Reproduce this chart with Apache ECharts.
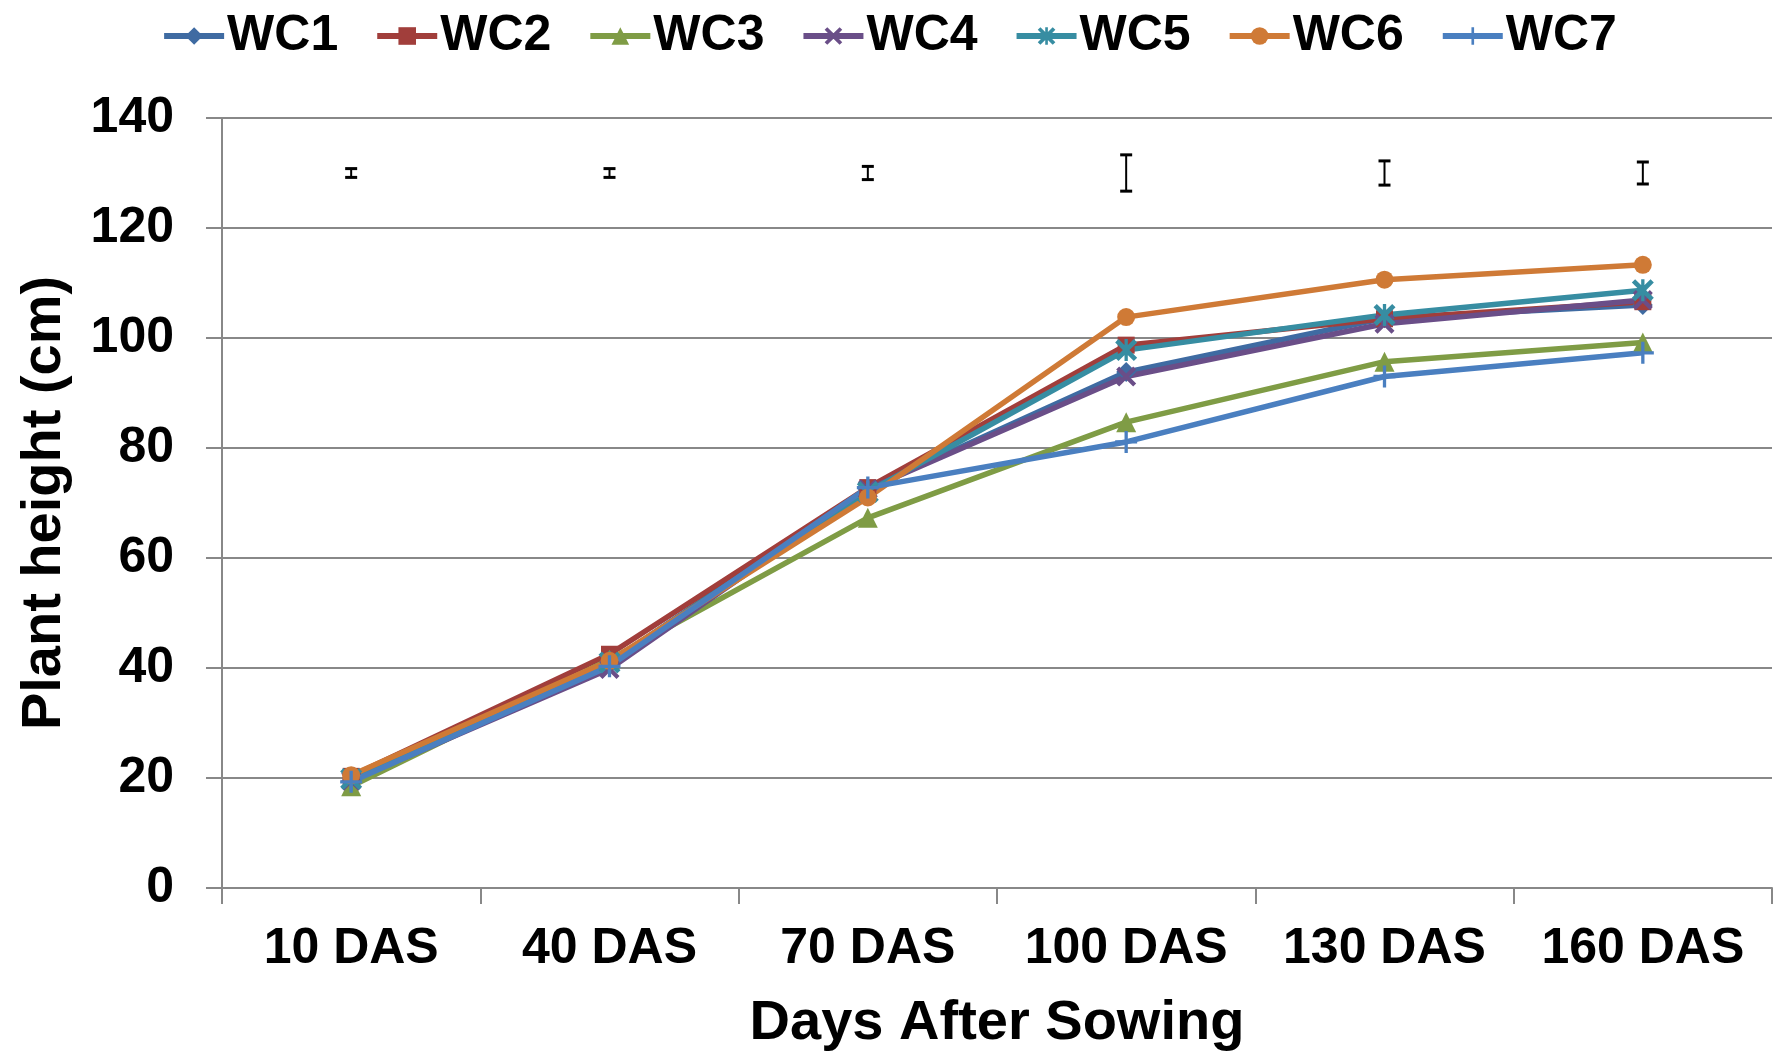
<!DOCTYPE html>
<html>
<head>
<meta charset="utf-8">
<script src="https://cdn.jsdelivr.net/npm/echarts@6/dist/echarts.min.js"></script>
<style>
  html, body { margin: 0; padding: 0; background: #fff; }
  #chart { width: 1778px; height: 1052px; }
</style>
</head>
<body>
<div id="chart"></div>
<script>
const categories = ['10 DAS', '40 DAS', '70 DAS', '100 DAS', '130 DAS', '160 DAS'];
const yTicks = [0, 20, 40, 60, 80, 100, 120, 140];

const wc1 = [19.5, 41.0, 72.5, 93.8, 103.6, 106.0];
const wc2 = [20.3, 42.5, 72.8, 98.7, 103.5, 106.6];
const wc3 = [18.5, 41.5, 67.3, 84.7, 95.7, 99.2];
const wc4 = [19.5, 39.8, 72.5, 93.0, 102.6, 106.9];
const wc5 = [19.8, 41.0, 72.0, 97.8, 104.2, 108.7];
const wc6 = [20.5, 41.3, 71.0, 103.8, 110.6, 113.3];
const wc7 = [19.3, 40.3, 72.8, 81.1, 93.0, 97.3];

// error bars drawn at the top of the plot
const errCenter = [130, 130, 130, 130, 130, 130];
const errHalf = [0.8, 0.8, 1.2, 3.3, 2.2, 2.0];

const FONT = '"Liberation Sans", Arial, sans-serif';

const xMark = 'path://M3,0L10,7L17,0L20,3L13,10L20,17L17,20L10,13L3,20L0,17L7,10L0,3Z';
const starMark = xMark + ' M8.5,0H11.5V20H8.5Z';
const plusMark = 'path://M8.5,0H11.5V20H8.5Z M0,8.5H20V11.5H0Z';

const seriesDefs = [
  { name: 'WC1', data: wc1, color: '#3F6BA2', symbol: 'diamond', size: 20 },
  { name: 'WC2', data: wc2, color: '#A13E3B', symbol: 'rect', size: 17 },
  { name: 'WC3', data: wc3, color: '#7F9C45', symbol: 'triangle', size: 20 },
  { name: 'WC4', data: wc4, color: '#6A4E88', symbol: xMark, size: 20 },
  { name: 'WC5', data: wc5, color: '#378DA2', symbol: starMark, size: 22 },
  { name: 'WC6', data: wc6, color: '#CF7A36', symbol: 'circle', size: 18 },
  { name: 'WC7', data: wc7, color: '#4A7FC0', symbol: plusMark, size: 22 }
];

const chart = echarts.init(document.getElementById('chart'), null, { renderer: 'canvas' });

const lineSeries = seriesDefs.map(d => ({
  name: d.name,
  type: 'line',
  data: d.data,
  symbol: d.symbol,
  symbolSize: d.size,
  showAllSymbol: true,
  lineStyle: { color: d.color, width: 5.5 },
  itemStyle: { color: d.color },
  emphasis: { disabled: true },
  animation: false,
  z: 3
}));

const errData = categories.map((c, i) => [i, errCenter[i], errHalf[i]]);

const errSeries = {
  name: 'err',
  type: 'custom',
  data: errData,
  animation: false,
  z: 4,
  renderItem(params, api) {
    const i = api.value(0);
    const c = api.value(1);
    const h = api.value(2);
    const top = api.coord([i, c + h]);
    const bot = api.coord([i, c - h]);
    const w = 6;
    const cap = { stroke: '#000', lineWidth: 3 };
    return {
      type: 'group',
      children: [
        { type: 'line', shape: { x1: top[0], y1: top[1], x2: bot[0], y2: bot[1] }, style: { stroke: '#000', lineWidth: 2 } },
        { type: 'line', shape: { x1: top[0] - w, y1: top[1], x2: top[0] + w, y2: top[1] }, style: cap },
        { type: 'line', shape: { x1: bot[0] - w, y1: bot[1], x2: bot[0] + w, y2: bot[1] }, style: cap }
      ]
    };
  }
};

chart.setOption({
  backgroundColor: '#fff',
  animation: false,
  legend: {
    data: seriesDefs.map(d => d.name),
    top: 6,
    left: 'center',
    itemWidth: 60,
    itemHeight: 22,
    itemGap: 36,
    lineStyle: { width: 6 },
    textStyle: { fontFamily: FONT, fontWeight: 'bold', fontSize: 50, color: '#000', padding: [0, 0, 0, -2] }
  },
  grid: {
    left: 222,
    right: 6,
    top: 118,
    bottom: 164,
    outerBoundsMode: 'none'
  },
  xAxis: {
    type: 'category',
    data: categories,
    boundaryGap: true,
    name: 'Days After Sowing',
    nameLocation: 'middle',
    nameGap: 108,
    nameTextStyle: { fontFamily: FONT, fontWeight: 'bold', fontSize: 56, color: '#000' },
    axisLine: { lineStyle: { color: '#888', width: 2 } },
    axisTick: { show: true, length: 16, interval: 0, lineStyle: { color: '#888', width: 2 } },
    axisLabel: { interval: 0, fontFamily: FONT, fontWeight: 'bold', fontSize: 50, color: '#000', margin: 36 },
    splitLine: { show: false }
  },
  yAxis: {
    type: 'value',
    min: yTicks[0],
    max: yTicks[yTicks.length - 1],
    interval: yTicks[1] - yTicks[0],
    name: 'Plant height (cm)',
    nameLocation: 'middle',
    nameGap: 149,
    nameRotate: 90,
    nameTextStyle: { fontFamily: FONT, fontWeight: 'bold', fontSize: 56, color: '#000' },
    axisLine: { show: true, lineStyle: { color: '#888', width: 2 } },
    axisTick: { show: true, length: 16, lineStyle: { color: '#888', width: 2 } },
    axisLabel: { fontFamily: FONT, fontWeight: 'bold', fontSize: 50, color: '#000', margin: 48 },
    splitLine: { show: true, lineStyle: { color: '#888', width: 2 } }
  },
  series: lineSeries.concat([errSeries])
});
</script>
</body>
</html>
